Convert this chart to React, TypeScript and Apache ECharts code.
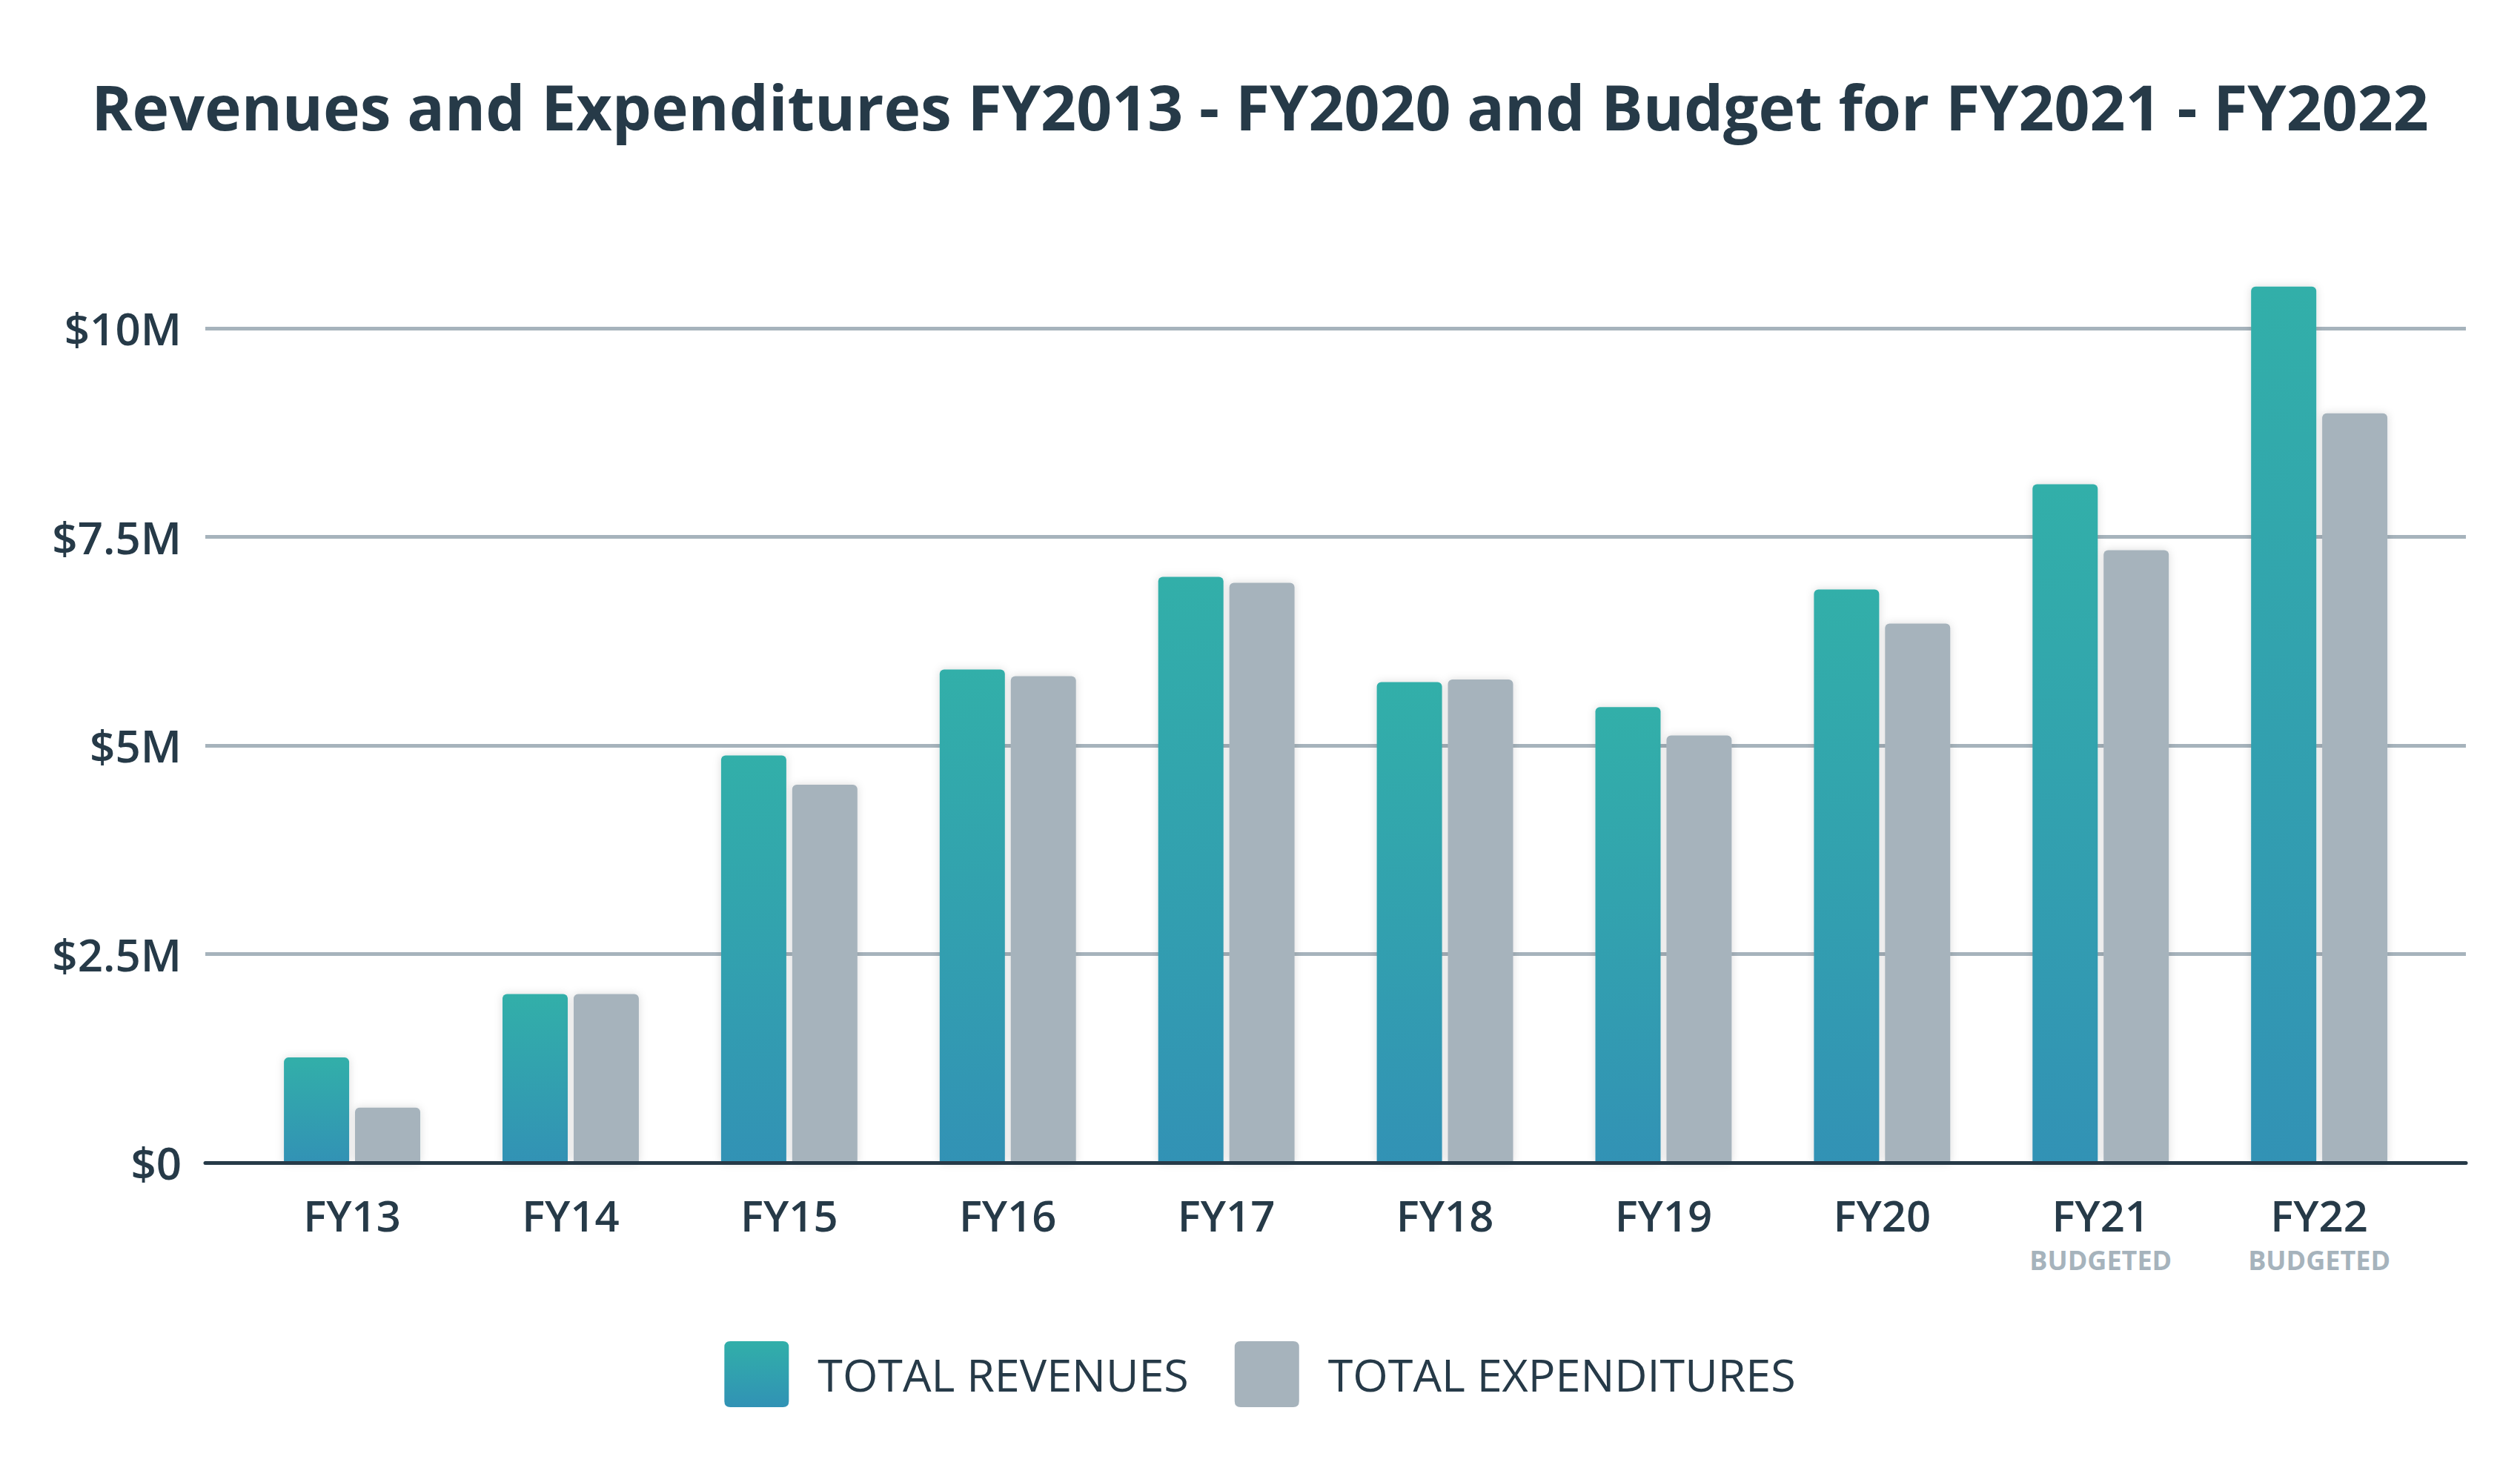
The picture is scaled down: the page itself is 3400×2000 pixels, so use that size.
import { useEffect, useRef } from 'react'
import * as echarts from 'echarts'

const categories = ['FY13', 'FY14', 'FY15', 'FY16', 'FY17', 'FY18', 'FY19', 'FY20', 'FY21', 'FY22']
const categoryNotes = ['', '', '', '', '', '', '', '', 'BUDGETED', 'BUDGETED']
const totalRevenues = [1.26, 2.02, 4.88, 5.91, 7.02, 5.76, 5.46, 6.87, 8.13, 10.5]
const totalExpenditures = [0.66, 2.02, 4.53, 5.83, 6.95, 5.79, 5.12, 6.46, 7.34, 8.98]
const yTicks = [0, 2.5, 5, 7.5, 10]
const yTickLabels = ['$0', '$2.5M', '$5M', '$7.5M', '$10M']

const INK = '#263a48'
const GREY = '#a6b3bc'
const FONT = '"Open Sans", "Noto Sans", sans-serif'
const legendIcon = 'path://M8,0 H79 Q87,0 87,8 V81 Q87,89 79,89 H8 Q0,89 0,81 V8 Q0,0 8,0 Z'

export default function App() {
  const rootRef = useRef<HTMLDivElement | null>(null)
  useEffect(() => {
    document.body.style.margin = '0'
    if (!rootRef.current) return
    const chart = echarts.init(rootRef.current, null, { renderer: 'svg' })
    const revenueFill = new echarts.graphic.LinearGradient(0, 0, 0, 1, [
      { offset: 0, color: '#31afa9' },
      { offset: 1, color: '#3192b5' },
    ])
    const shadow = { shadowBlur: 12, shadowColor: 'rgba(0,0,0,0.14)' }
    chart.setOption({
      animation: false,
      backgroundColor: '#ffffff',
      textStyle: { fontFamily: FONT },
      title: {
        text: 'Revenues and Expenditures FY2013 - FY2020 and Budget for FY2021 - FY2022',
        left: 'center',
        top: 89,
        textStyle: { fontSize: 84, fontWeight: 700, color: INK, fontFamily: FONT, lineHeight: 98 },
      },
      legend: {
        left: 'center',
        top: 1805,
        itemWidth: 87,
        itemHeight: 89,
        itemGap: 62,
        textStyle: { fontSize: 61, color: INK, fontFamily: FONT, padding: [0, 0, 0, 34] },
        data: [
          { name: 'TOTAL REVENUES', icon: legendIcon },
          { name: 'TOTAL EXPENDITURES', icon: legendIcon },
        ],
      },
      grid: [
        { left: 277, right: 73, top: 443, bottom: 431 },
        { left: 327.6, right: 123.4, top: 443, bottom: 431 },
      ],
      xAxis: [
        {
          type: 'category',
          gridIndex: 0,
          data: categories,
          z: 3,
          axisLine: { show: true, lineStyle: { color: INK, width: 5 } },
          axisTick: { show: false },
          axisLabel: { show: false },
        },
        {
          type: 'category',
          gridIndex: 1,
          data: categories,
          axisLine: { show: false },
          axisTick: { show: false },
          axisLabel: {
            interval: 0,
            margin: 35,
            formatter: (v: string, i: number) =>
              categoryNotes[i] ? `{a|${v}}\n{b|${categoryNotes[i]}}` : `{a|${v}}`,
            rich: {
              a: { fontSize: 58, fontWeight: 600, color: INK, lineHeight: 70, fontFamily: FONT },
              b: { fontSize: 36, fontWeight: 700, color: GREY, lineHeight: 52, fontFamily: FONT },
            },
          },
        },
      ],
      yAxis: [
        {
          type: 'value',
          gridIndex: 0,
          min: 0,
          max: 10,
          interval: 2.5,
          axisLine: { show: false },
          axisTick: { show: false },
          splitLine: { lineStyle: { color: GREY, width: 5 } },
          axisLabel: {
            margin: 32,
            fontSize: 60,
            fontWeight: 600,
            color: INK,
            fontFamily: FONT,
            formatter: (v: number) => yTickLabels[yTicks.indexOf(v)] ?? '',
          },
        },
        { type: 'value', gridIndex: 1, min: 0, max: 10, show: false },
      ],
      series: [
        {
          name: 'TOTAL REVENUES',
          type: 'bar',
          xAxisIndex: 1,
          yAxisIndex: 1,
          clip: false,
          barWidth: 88,
          barGap: '9%',
          data: totalRevenues,
          itemStyle: { color: revenueFill, borderRadius: [6, 6, 0, 0], ...shadow },
        },
        {
          name: 'TOTAL EXPENDITURES',
          type: 'bar',
          xAxisIndex: 1,
          yAxisIndex: 1,
          clip: false,
          barWidth: 88,
          barGap: '9%',
          data: totalExpenditures,
          itemStyle: { color: GREY, borderRadius: [6, 6, 0, 0], ...shadow },
        },
      ],
    })
    return () => chart.dispose()
  }, [])

  return <div ref={rootRef} style={{ width: 3400, height: 2000 }} />
}
